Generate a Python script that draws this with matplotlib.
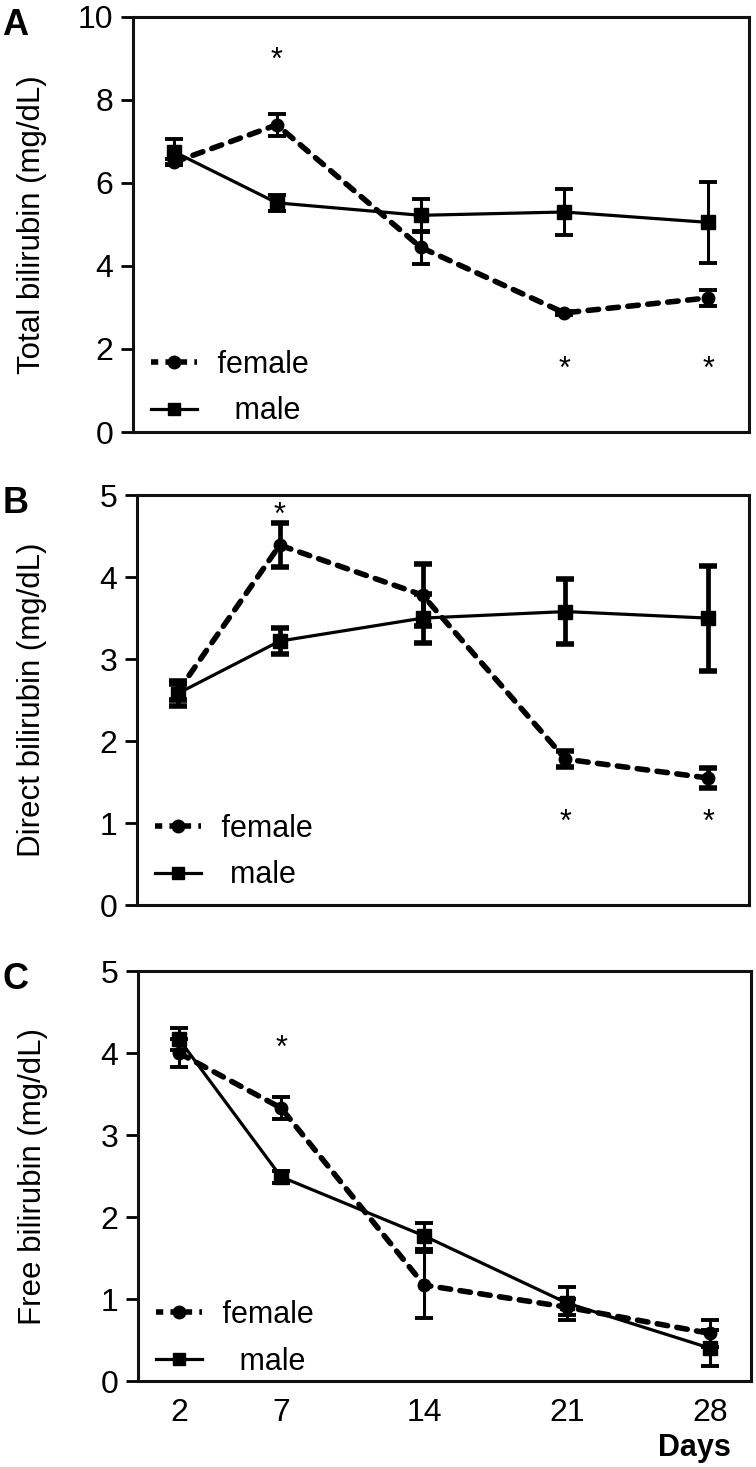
import numpy as np
import matplotlib
matplotlib.use("Agg")
import matplotlib.pyplot as plt
from matplotlib.lines import Line2D

plt.rcParams['font.family'] = ['Liberation Sans', 'DejaVu Sans']

days = [2, 7, 14, 21, 28]

# A: total bilirubin
total_f = [6.5, 7.4, 4.45, 2.87, 3.23]
total_f_err = [0.08, 0.27, 0.4, 0.05, 0.2]
total_m = [6.75, 5.52, 5.22, 5.30, 5.05]
total_m_err = [0.3, 0.2, 0.4, 0.56, 0.98]

# B: direct bilirubin
direct_f = [2.6, 4.39, 3.78, 1.78, 1.55]
direct_f_err = [0.1, 0.27, 0.38, 0.1, 0.12]
direct_m = [2.58, 3.22, 3.5, 3.58, 3.5]
direct_m_err = [0.15, 0.16, 0.3, 0.4, 0.64]

# C: free bilirubin
free_f = [4.0, 3.33, 1.17, 0.9, 0.58]
free_f_err = [0.17, 0.13, 0.4, 0.1, 0.17]
free_m = [4.17, 2.49, 1.77, 0.95, 0.4]
free_m_err = [0.13, 0.07, 0.16, 0.2, 0.22]

# significance marks (day, y)
stars_a = [(7, 8.95), (21, 1.5), (28, 1.5)]
stars_b = [(7, 4.75), (21, 1.0), (28, 1.0)]
stars_c = [(7, 4.05)]

fig = plt.figure(figsize=(7.56, 14.67), dpi=100)

boxes = [
    [0.176, 0.7055, 0.815, 0.283],
    [0.181, 0.383, 0.810, 0.2795],
    [0.1825, 0.0586, 0.811, 0.2795],
]
panels = [
    ("A", "Total bilirubin (mg/dL)", total_f, total_f_err, total_m, total_m_err, stars_a, 10, 2, 2.2, -0.038),
    ("B", "Direct bilirubin (mg/dL)", direct_f, direct_f_err, direct_m, direct_m_err, stars_b, 5, 1, 3.4, -0.016),
    ("C", "Free bilirubin (mg/dL)", free_f, free_f_err, free_m, free_m_err, stars_c, 5, 1, 2.2, -0.042),
]

for i, (letter, ylab, yf, ef, ym, em, stars, ymax, ystep, elw, leg_y) in enumerate(panels):
    ax = fig.add_axes(boxes[i])
    ax.errorbar(days, ym, yerr=em, fmt='-s', color='black', lw=2.3, ms=10,
                elinewidth=elw, capsize=6.5, capthick=elw + 0.6, zorder=3)
    ax.errorbar(days, yf, yerr=ef, fmt='o', color='black', ms=9,
                elinewidth=elw, capsize=6.5, capthick=elw + 0.6, zorder=3)
    ax.plot(days, yf, color='black', lw=4, ls=(0, (1.9, 1.7)),
            dash_capstyle='round', zorder=3)

    for d, s in stars:
        ax.text(d, s, "*", ha='center', va='center', fontsize=22)

    ax.set_xlim(0, 30)
    ax.set_ylim(0, ymax)
    ax.set_yticks(np.arange(0, ymax + 0.01, ystep))
    if letter == "C":
        ax.set_xticks(days)
        ax.tick_params(axis='x', length=0, labelsize=23, pad=12)
    else:
        ax.set_xticks([])
    ax.tick_params(axis='y', direction='out', length=9, width=2, labelsize=23, pad=5)
    for sp in ax.spines.values():
        sp.set_linewidth(2.2)
        sp.set_color('#111111')

    ax.set_ylabel(ylab, fontsize=22.5)
    ax.yaxis.set_label_coords(-0.14 if i == 0 else -0.147, 0.5)

    h_f = Line2D([], [], color='black', lw=4, ls=(0, (1.3, 1.3)), marker='o', ms=9)
    h_m = Line2D([], [], color='black', lw=2.3, marker='s', ms=9)
    male_lab = "  male" if letter == "B" else "   male"
    ax.legend([h_f, h_m], [" female", male_lab], loc='lower left', frameon=False,
              fontsize=22, handlelength=1.5, handletextpad=0.4, labelspacing=0.55,
              borderaxespad=0.3, bbox_to_anchor=(-0.005, leg_y))

    top = boxes[i][1] + boxes[i][3]
    fig.text(0.003, top + 0.006, letter, fontsize=26, fontweight='bold', va='top', ha='left')

fig.text(0.918, 0.003, "Days", fontsize=22, fontweight='bold', ha='center', va='bottom')

fig.savefig("out.png", dpi=100)
